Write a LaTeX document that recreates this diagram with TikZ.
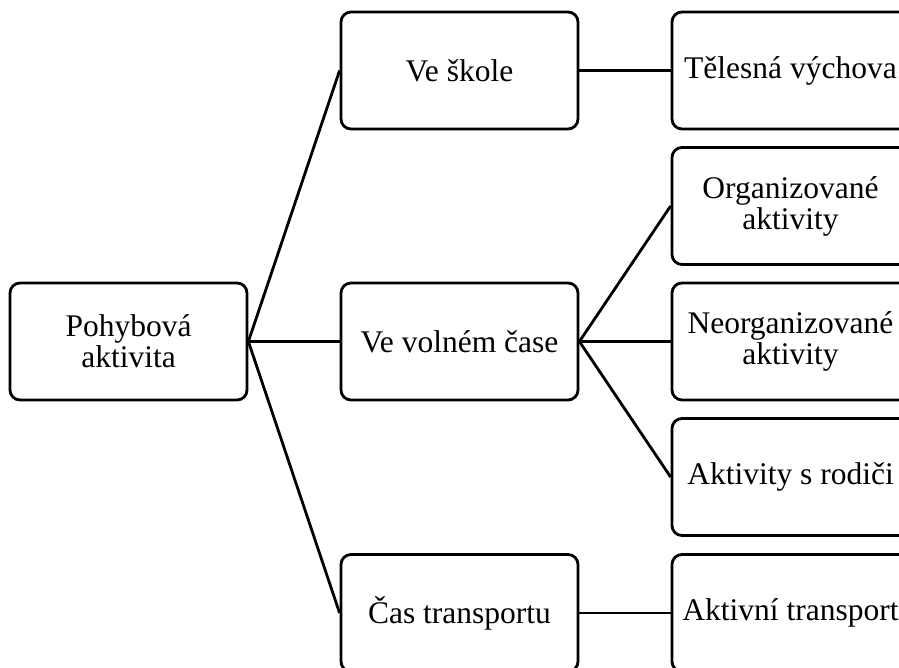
\documentclass[tikz,border=0pt]{standalone}
\usepackage{fontspec}
\setmainfont{Liberation Serif}
\begin{document}
\begin{tikzpicture}[x=1pt,y=-1pt,
  box/.style={draw, rectangle, rounded corners=10pt, line width=2.8pt,
    minimum width=237pt, minimum height=117pt, inner sep=0pt, align=center,
    font=\fontsize{31.5}{31}\selectfont},
  link/.style={line width=2.8pt}]
\clip (0,0) rectangle (899,667);
\node[box] (root) at (128.5,341.5) {Pohybová\\aktivita};
\node[box] (skola) at (459.5,70.5) {Ve škole};
\node[box] (volny) at (459.5,341.5) {Ve volném čase};
\node[box] (trans) at (459.5,613) {Čas transportu};
\node[box] (tv) at (790.5,70.5) {Tělesná výchova};
\node[box] (org) at (790.5,206) {Organizované\\aktivity};
\node[box] (neorg) at (790.5,341.5) {Neorganizované\\aktivity};
\node[box] (rod) at (790.5,477) {Aktivity s rodiči};
\node[box] (akt) at (790.5,613) {Aktivní transport};
\draw[link] (root.east) -- (skola.west);
\draw[link] (root.east) -- (volny.west);
\draw[link] (root.east) -- (trans.west);
\draw[link] (skola.east) -- (tv.west);
\draw[link] (volny.east) -- (org.west);
\draw[link] (volny.east) -- (neorg.west);
\draw[link] (volny.east) -- (rod.west);
\draw[link] (trans.east) -- (akt.west);
\end{tikzpicture}
\end{document}
